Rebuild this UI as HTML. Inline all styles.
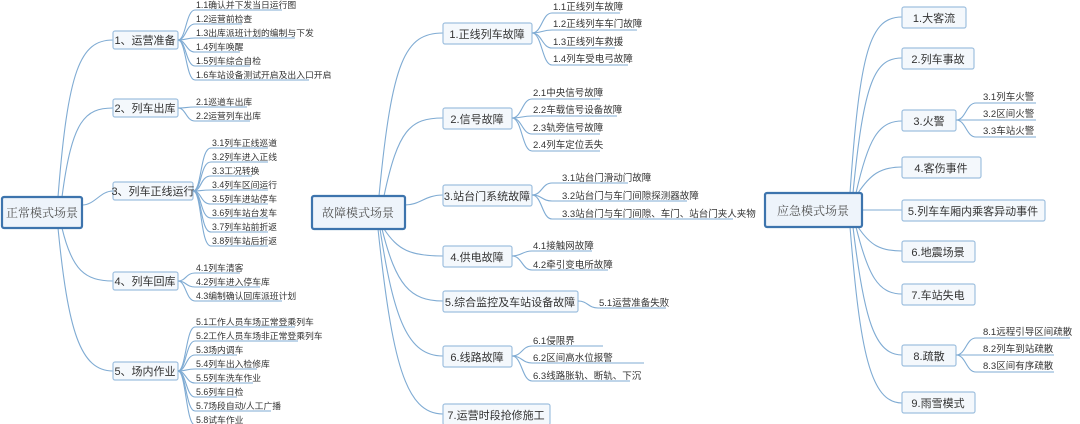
<!DOCTYPE html>
<html><head><meta charset="utf-8"><style>
html,body{margin:0;padding:0;background:#fff;}
svg{display:block;font-family:"Liberation Sans","Noto Sans CJK SC",sans-serif;}
.l{fill:none;stroke:#7fabd3;stroke-width:1.1}
.r{fill:#eef4fb;stroke:#3d74ad;stroke-width:2.2}
.c{fill:#f4f8fc;stroke:#9fc0df;stroke-width:1.2}
.t1{font-size:12px;fill:#555;font-family:"Noto Serif CJK SC","Liberation Serif",serif}
.t2{font-size:11px;fill:#333}
.t3{font-size:8.8px;fill:#333}
.t4{font-size:9.5px;fill:#333}
</style></head><body>
<svg width="1080" height="424" viewBox="0 0 1080 424">
<!-- LEFT -->
<g>
<path class="l" d="M58,197 C68,70 80,40 113,40"/>
<path class="l" d="M62,197 C72,120 85,108 113,108"/>
<path class="l" d="M82,205 C95,205 100,191 113,191"/>
<path class="l" d="M62,228 C72,270 85,281 113,281"/>
<path class="l" d="M58,228 C68,330 80,371 113,371"/>
<rect class="r" x="2" y="197" width="80" height="31" rx="2"/>
<text class="t1" x="42" y="217" text-anchor="middle">正常模式场景</text>
<rect class="c" x="113" y="31" width="65" height="18" rx="2"/><text class="t2" x="145" y="44" text-anchor="middle">1、运营准备</text>
<rect class="c" x="113" y="99" width="65" height="18" rx="2"/><text class="t2" x="145" y="112" text-anchor="middle">2、列车出库</text>
<rect class="c" x="113" y="182" width="80" height="18" rx="2"/><text class="t2" x="153" y="195" text-anchor="middle">3、列车正线运行</text>
<rect class="c" x="113" y="272" width="65" height="18" rx="2"/><text class="t2" x="145" y="285" text-anchor="middle">4、列车回库</text>
<rect class="c" x="113" y="362" width="65" height="18" rx="2"/><text class="t2" x="145" y="375" text-anchor="middle">5、场内作业</text>
<!-- g1 -->
<path class="l" d="M178,40 C186,40 186,10 195,10 H282"/>
<path class="l" d="M178,40 C186,40 186,24 195,24 H242"/>
<path class="l" d="M178,40 C186,40 186,38 195,38 H295"/>
<path class="l" d="M178,40 C186,40 186,52 195,52 H240"/>
<path class="l" d="M178,40 C186,40 186,66 195,66 H250"/>
<path class="l" d="M178,40 C186,40 186,80 195,80 H309"/>
<text class="t3" x="196" y="8">1.1确认并下发当日运行图</text>
<text class="t3" x="196" y="22">1.2运营前检查</text>
<text class="t3" x="196" y="36">1.3出库派班计划的编制与下发</text>
<text class="t3" x="196" y="50">1.4列车唤醒</text>
<text class="t3" x="196" y="64">1.5列车综合自检</text>
<text class="t3" x="196" y="78">1.6车站设备测试开启及出入口开启</text>
<!-- g2 -->
<path class="l" d="M178,108 C186,108 186,107 195,107 H247"/>
<path class="l" d="M178,108 C186,108 186,121 195,121 H250"/>
<text class="t3" x="196" y="105">2.1巡道车出库</text>
<text class="t3" x="196" y="119">2.2运营列车出库</text>
<!-- g3 -->
<path class="l" d="M193,191 C202,191 200,148 211,148 H268"/>
<path class="l" d="M193,191 C202,191 200,162 211,162 H268"/>
<path class="l" d="M193,191 C202,191 200,176 211,176 H252"/>
<path class="l" d="M193,191 C202,191 200,190 211,190 H268"/>
<path class="l" d="M193,191 C202,191 200,204 211,204 H268"/>
<path class="l" d="M193,191 C202,191 200,218 211,218 H268"/>
<path class="l" d="M193,191 C202,191 200,232 211,232 H268"/>
<path class="l" d="M193,191 C202,191 200,246 211,246 H268"/>
<text class="t3" x="212" y="146">3.1列车正线巡道</text>
<text class="t3" x="212" y="160">3.2列车进入正线</text>
<text class="t3" x="212" y="174">3.3工况转换</text>
<text class="t3" x="212" y="188">3.4列车区间运行</text>
<text class="t3" x="212" y="202">3.5列车进站停车</text>
<text class="t3" x="212" y="216">3.6列车站台发车</text>
<text class="t3" x="212" y="230">3.7列车站前折返</text>
<text class="t3" x="212" y="244">3.8列车站后折返</text>
<!-- g4 -->
<path class="l" d="M178,281 C186,281 186,273 195,273 H240"/>
<path class="l" d="M178,281 C186,281 186,287 195,287 H260"/>
<path class="l" d="M178,281 C186,281 186,301 195,301 H282"/>
<text class="t3" x="196" y="271">4.1列车清客</text>
<text class="t3" x="196" y="285">4.2列车进入停车库</text>
<text class="t3" x="196" y="299">4.3编制确认回库派班计划</text>
<!-- g5 -->
<path class="l" d="M178,371 C186,371 186,327 195,327 H295"/>
<path class="l" d="M178,371 C186,371 186,341 195,341 H298"/>
<path class="l" d="M178,371 C186,371 186,355 195,355 H237"/>
<path class="l" d="M178,371 C186,371 186,369 195,369 H257"/>
<path class="l" d="M178,371 C186,371 186,383 195,383 H253"/>
<path class="l" d="M178,371 C186,371 186,397 195,397 H237"/>
<path class="l" d="M178,371 C186,371 186,411 195,411 H271"/>
<path class="l" d="M178,371 C186,371 186,425 195,425 H240"/>
<text class="t3" x="196" y="325">5.1工作人员车场正常登乘列车</text>
<text class="t3" x="196" y="339">5.2工作人员车场非正常登乘列车</text>
<text class="t3" x="196" y="353">5.3场内调车</text>
<text class="t3" x="196" y="367">5.4列车出入检修库</text>
<text class="t3" x="196" y="381">5.5列车洗车作业</text>
<text class="t3" x="196" y="395">5.6列车日检</text>
<text class="t3" x="196" y="409">5.7场段自动/人工广播</text>
<text class="t3" x="196" y="423">5.8试车作业</text>
</g>
<!-- MIDDLE -->
<g>
<path class="l" d="M379,196 C392,60 405,33 443,33"/>
<path class="l" d="M384,196 C398,130 410,118 443,118"/>
<path class="l" d="M405,205 C420,205 425,195 443,195"/>
<path class="l" d="M384,229 C398,250 410,256 443,256"/>
<path class="l" d="M382,229 C396,285 410,301 443,301"/>
<path class="l" d="M380,229 C394,320 408,356 443,356"/>
<path class="l" d="M378,229 C392,360 405,414 443,414"/>
<rect class="r" x="312" y="196" width="93" height="33" rx="2"/>
<text class="t1" x="358" y="217" text-anchor="middle">故障模式场景</text>
<rect class="c" x="443" y="23" width="89" height="21" rx="2"/><text class="t2" x="487" y="38" text-anchor="middle">1.正线列车故障</text>
<rect class="c" x="443" y="108" width="69" height="21" rx="2"/><text class="t2" x="477" y="123" text-anchor="middle">2.信号故障</text>
<rect class="c" x="443" y="185" width="89" height="21" rx="2"/><text class="t2" x="487" y="200" text-anchor="middle">3.站台门系统故障</text>
<rect class="c" x="443" y="246" width="69" height="21" rx="2"/><text class="t2" x="477" y="261" text-anchor="middle">4.供电故障</text>
<rect class="c" x="443" y="291" width="135" height="21" rx="2"/><text class="t2" x="510" y="306" text-anchor="middle">5.综合监控及车站设备故障</text>
<rect class="c" x="443" y="346" width="69" height="21" rx="2"/><text class="t2" x="477" y="361" text-anchor="middle">6.线路故障</text>
<rect class="c" x="443" y="404" width="107" height="21" rx="2"/><text class="t2" x="496" y="419" text-anchor="middle">7.运营时段抢修施工</text>
<path class="l" d="M532,33 C542,33 542,13 552,13 H620"/>
<path class="l" d="M532,33 C542,33 542,30 552,30 H637"/>
<path class="l" d="M532,33 C542,33 542,48 552,48 H615"/>
<path class="l" d="M532,33 C542,33 542,65 552,65 H628"/>
<text class="t4" x="553" y="10">1.1正线列车故障</text>
<text class="t4" x="553" y="27">1.2正线列车车门故障</text>
<text class="t4" x="553" y="45">1.3正线列车救援</text>
<text class="t4" x="553" y="62">1.4列车受电弓故障</text>
<path class="l" d="M512,118 C522,118 522,99 532,99 H600"/>
<path class="l" d="M512,118 C522,118 522,116 532,116 H617"/>
<path class="l" d="M512,118 C522,118 522,134 532,134 H600"/>
<path class="l" d="M512,118 C522,118 522,151 532,151 H600"/>
<text class="t4" x="533" y="96">2.1中央信号故障</text>
<text class="t4" x="533" y="113">2.2车载信号设备故障</text>
<text class="t4" x="533" y="131">2.3轨旁信号故障</text>
<text class="t4" x="533" y="148">2.4列车定位丢失</text>
<path class="l" d="M532,195 C542,195 542,183 552,183 H628"/>
<path class="l" d="M532,195 C542,195 542,201 552,201 H687"/>
<path class="l" d="M532,195 C542,195 542,219 552,219 H733"/>
<text class="t4" x="562" y="181">3.1站台门滑动门故障</text>
<text class="t4" x="562" y="199">3.2站台门与车门间隙探测器故障</text>
<text class="t4" x="562" y="217">3.3站台门与车门间隙、车门、站台门夹人夹物</text>
<path class="l" d="M512,256 C522,256 522,251 532,251 H592"/>
<path class="l" d="M512,256 C522,256 522,270 532,270 H608"/>
<text class="t4" x="533" y="249">4.1接触网故障</text>
<text class="t4" x="533" y="268">4.2牵引变电所故障</text>
<path class="l" d="M578,301 C588,301 588,308 598,308 H666"/>
<text class="t4" x="599" y="306">5.1运营准备失败</text>
<path class="l" d="M512,356 C522,356 522,346 532,346 H603"/>
<path class="l" d="M512,356 C522,356 522,363 532,363 H644"/>
<path class="l" d="M512,356 C522,356 522,381 532,381 H630"/>
<text class="t4" x="533" y="344">6.1侵限界</text>
<text class="t4" x="533" y="361">6.2区间高水位报警</text>
<text class="t4" x="533" y="379">6.3线路胀轨、断轨、下沉</text>
</g>
<!-- RIGHT -->
<g>
<path class="l" d="M850,193 C860,50 870,17 902,17"/>
<path class="l" d="M853,193 C864,80 875,58 902,58"/>
<path class="l" d="M856,193 C868,140 878,121 902,121"/>
<path class="l" d="M858,193 C870,175 880,167 902,167"/>
<path class="l" d="M862,210 H902"/>
<path class="l" d="M858,227 C870,245 880,251 902,251"/>
<path class="l" d="M856,227 C868,275 878,294 902,294"/>
<path class="l" d="M853,227 C864,320 875,355 902,355"/>
<path class="l" d="M850,227 C860,350 870,403 902,403"/>
<rect class="r" x="765" y="193" width="97" height="34" rx="2"/>
<text class="t1" x="813" y="215" text-anchor="middle">应急模式场景</text>
<rect class="c" x="902" y="7" width="64" height="21" rx="2"/><text class="t2" x="934" y="22" text-anchor="middle">1.大客流</text>
<rect class="c" x="902" y="48" width="72" height="21" rx="2"/><text class="t2" x="938" y="63" text-anchor="middle">2.列车事故</text>
<rect class="c" x="902" y="110" width="54" height="21" rx="2"/><text class="t2" x="929" y="125" text-anchor="middle">3.火警</text>
<rect class="c" x="902" y="157" width="79" height="21" rx="2"/><text class="t2" x="941" y="172" text-anchor="middle">4.客伤事件</text>
<rect class="c" x="902" y="200" width="143" height="21" rx="2"/><text class="t2" x="973" y="215" text-anchor="middle">5.列车车厢内乘客异动事件</text>
<rect class="c" x="902" y="241" width="73" height="21" rx="2"/><text class="t2" x="938" y="256" text-anchor="middle">6.地震场景</text>
<rect class="c" x="902" y="284" width="73" height="21" rx="2"/><text class="t2" x="938" y="299" text-anchor="middle">7.车站失电</text>
<rect class="c" x="902" y="345" width="54" height="21" rx="2"/><text class="t2" x="929" y="360" text-anchor="middle">8.疏散</text>
<rect class="c" x="902" y="392" width="73" height="21" rx="2"/><text class="t2" x="938" y="407" text-anchor="middle">9.雨雪模式</text>
<path class="l" d="M956,120 C966,120 966,103 976,103 H1036"/>
<path class="l" d="M956,120 C966,120 966,120 976,120 H1036"/>
<path class="l" d="M956,120 C966,120 966,137 976,137 H1036"/>
<text class="t4" x="983" y="100">3.1列车火警</text>
<text class="t4" x="983" y="117">3.2区间火警</text>
<text class="t4" x="983" y="134">3.3车站火警</text>
<path class="l" d="M956,355 C966,355 966,338 976,338 H1070"/>
<path class="l" d="M956,355 C966,355 966,355 976,355 H1054"/>
<path class="l" d="M956,355 C966,355 966,372 976,372 H1054"/>
<text class="t4" x="983" y="335">8.1远程引导区间疏散</text>
<text class="t4" x="983" y="352">8.2列车到站疏散</text>
<text class="t4" x="983" y="369">8.3区间有序疏散</text>
</g>
</svg>
</body></html>
